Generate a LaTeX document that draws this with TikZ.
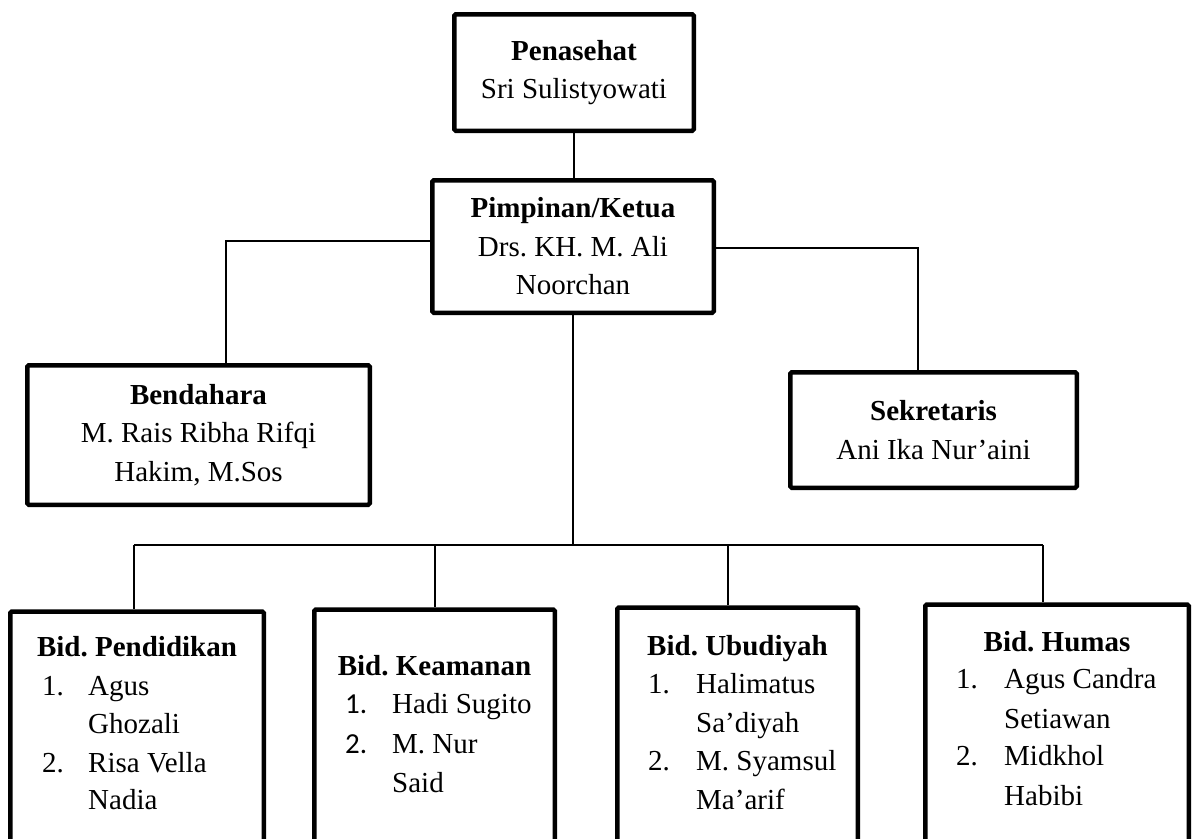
\documentclass[tikz,border=0pt]{standalone}
\usepackage{fontspec}
\setmainfont{Liberation Serif}
\newfontfamily\calib{Carlito}
\frenchspacing
\begin{document}
\begin{tikzpicture}[x=1pt,y=-1pt,
  box/.style={draw=black, line width=4.5pt, rounded corners=1.5pt, inner sep=0pt, align=center, font=\frenchspacing\fontsize{29}{38.5}\selectfont},
  wire/.style={draw=black, line width=1.6pt},
  txt/.style={inner sep=0pt, font=\frenchspacing\fontsize{29}{38.5}\selectfont}
]
\useasboundingbox (0,0) rectangle (1198,838);
\clip (0,0) rectangle (1198,838);
\fill[white] (0,0) rectangle (1198,838);

% top boxes
\node[box, minimum width=239.5pt, minimum height=116.5pt] (pen) at (574,72.5) {\textbf{Penasehat}\\Sri Sulistyowati};
\node[box, minimum width=281.5pt, minimum height=132.5pt] (pim) at (573,246.5) {\textbf{Pimpinan/Ketua}\\Drs. KH. M. Ali\\Noorchan};
\node[box, minimum width=342.5pt, minimum height=139.5pt] (bend) at (198.5,435) {\textbf{Bendahara}\\M. Rais Ribha Rifqi\\Hakim, M.Sos};
\node[box, minimum width=286.5pt, minimum height=115.5pt] (sek) at (933.5,430) {\textbf{Sekretaris}\\Ani Ika Nur’aini};

% bottom boxes
\node[box, anchor=north, minimum width=253.5pt, minimum height=300pt] (b1) at (137,609.25) {};
\node[box, anchor=north, minimum width=240.5pt, minimum height=300pt] (b2) at (434.5,607.25) {};
\node[box, anchor=north, minimum width=240.5pt, minimum height=300pt] (b3) at (737.5,605.25) {};
\node[box, anchor=north, minimum width=263.5pt, minimum height=300pt] (b4) at (1057,602.25) {};

% connectors
\coordinate (l1) at (226,241);
\coordinate (r1) at (918,248);
\coordinate (hub) at (575,545);
\coordinate (d1) at (134,545);
\coordinate (d2) at (435,545);
\coordinate (d3) at (728,545);
\coordinate (d4) at (1043,545);
\draw[wire] (pen.south) -- (pen.south |- pim.north);
\draw[wire] (pim.west |- l1) -- (l1) -- (l1 |- bend.north);
\draw[wire] (pim.east |- r1) -- (r1) -- (r1 |- sek.north);
\draw[wire] (pim.south) -- (pim.south |- hub);
\draw[wire] (d1) -- (d4);
\draw[wire] (d1) -- (d1 |- b1.north);
\draw[wire] (d2) -- (d2 |- b2.north);
\draw[wire] (d3) -- (d3 |- b3.north);
\draw[wire] (d4) -- (d4 |- b4.north);

% Bid. Pendidikan
\node[txt, anchor=base] (t1) at (137,656) {\textbf{Bid. Pendidikan}};
\node[txt, anchor=base west] (n1a) at (42,695) {1.};
\node[txt, anchor=base west] (i1a) at (88,695) {Agus};
\node[txt, anchor=base west] (i1b) at (88,733) {Ghozali};
\node[txt, anchor=base west] (n1b) at (42,772) {2.};
\node[txt, anchor=base west] (i1c) at (88,772) {Risa Vella};
\node[txt, anchor=base west] (i1d) at (88,809) {Nadia};

% Bid. Keamanan
\node[txt, anchor=base] (t2) at (434.5,675) {\textbf{Bid. Keamanan}};
\node[txt, anchor=base west] (n2a) at (345,713) {\calib 1.};
\node[txt, anchor=base west] (i2a) at (392,713) {Hadi Sugito};
\node[txt, anchor=base west] (n2b) at (345,753) {\calib 2.};
\node[txt, anchor=base west] (i2b) at (392,753) {M. Nur};
\node[txt, anchor=base west] (i2c) at (392,792) {Said};

% Bid. Ubudiyah
\node[txt, anchor=base] (t3) at (737.5,655) {\textbf{Bid. Ubudiyah}};
\node[txt, anchor=base west] (n3a) at (648,693) {1.};
\node[txt, anchor=base west] (i3a) at (696,693) {Halimatus};
\node[txt, anchor=base west] (i3b) at (696,732) {Sa’diyah};
\node[txt, anchor=base west] (n3b) at (648,770) {2.};
\node[txt, anchor=base west] (i3c) at (696,770) {M. Syamsul};
\node[txt, anchor=base west] (i3d) at (696,809) {Ma’arif};

% Bid. Humas
\node[txt, anchor=base] (t4) at (1057,651) {\textbf{Bid. Humas}};
\node[txt, anchor=base west] (n4a) at (956,688) {1.};
\node[txt, anchor=base west] (i4a) at (1004,688) {Agus Candra};
\node[txt, anchor=base west] (i4b) at (1004,728) {Setiawan};
\node[txt, anchor=base west] (n4b) at (956,765) {2.};
\node[txt, anchor=base west] (i4c) at (1004,765) {Midkhol};
\node[txt, anchor=base west] (i4d) at (1004,805) {Habibi};
\end{tikzpicture}
\end{document}
